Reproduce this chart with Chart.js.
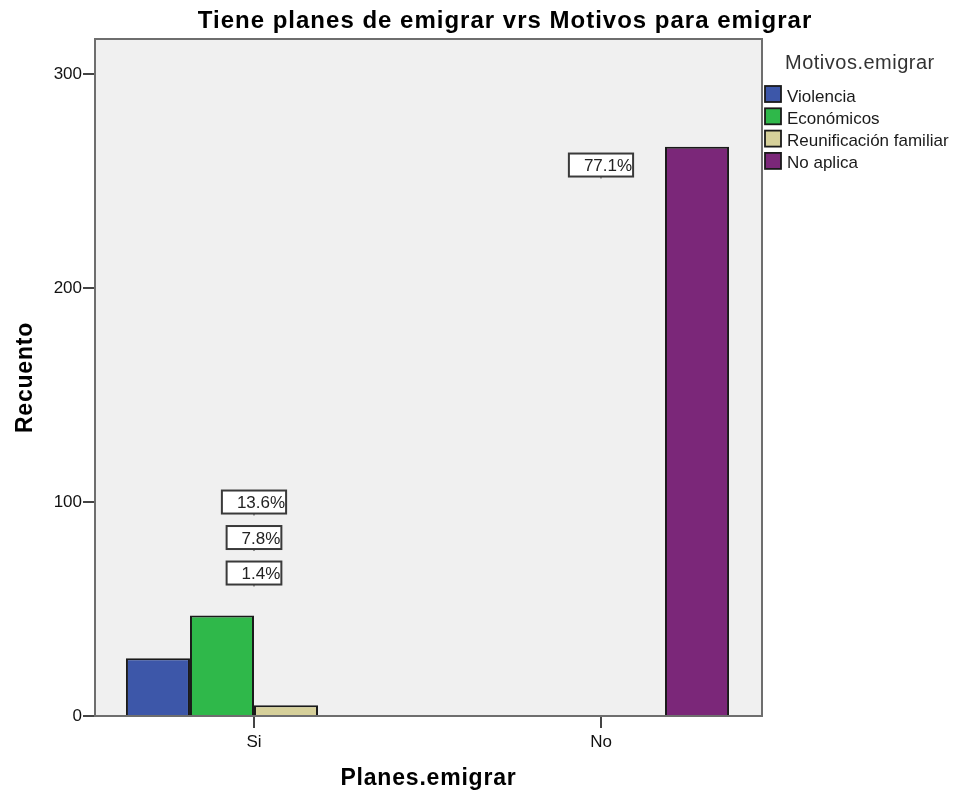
<!DOCTYPE html>
<html>
<head>
<meta charset="utf-8">
<script src="https://cdn.jsdelivr.net/npm/chart.js@4/dist/chart.umd.min.js"></script>
<style>
  body { margin: 0; background: #fff; }
  #lienzo { display: block; }
</style>
</head>
<body>
<canvas id="lienzo" width="956" height="791"></canvas>
<script>
// categorias del eje X
const categorias = ["Si", "No"];
// recuentos por motivo (uno por categoria)
const violencia = [27, 0];
const economicos = [47, 0];
const reunificacion = [5, 0];
const noAplica = [0, 266];
const motivos = ["Violencia", "Económicos", "Reunificación familiar", "No aplica"];
const colores = ["#3d57a9", "#2fb84a", "#d6d09a", "#7b2779"];
const ticksY = [0, 100, 200, 300];

const fuente = "'Liberation Sans', Arial, sans-serif";
const series = [violencia, economicos, reunificacion, noAplica];

// fondo gris del area de grafico y marco
const marcoPlugin = {
  id: "marco",
  beforeDraw(chart) {
    const a = chart.chartArea;
    const ctx = chart.ctx;
    ctx.save();
    ctx.fillStyle = "#f0f0f0";
    ctx.fillRect(a.left, a.top, a.right - a.left, a.bottom - a.top);
    ctx.restore();
  },
  beforeDatasetsDraw(chart) {
    const a = chart.chartArea;
    const ctx = chart.ctx;
    ctx.save();
    ctx.strokeStyle = "#6e6e6e";
    ctx.lineWidth = 2;
    ctx.strokeRect(a.left, a.top, a.right - a.left, a.bottom - a.top);
    ctx.restore();
  }
};

// titulo, titulos de ejes y leyenda
const textosPlugin = {
  id: "textos",
  afterDraw(chart) {
    const ctx = chart.ctx;
    const a = chart.chartArea;
    ctx.save();
    ctx.fillStyle = "#000";
    ctx.textAlign = "center";
    ctx.textBaseline = "alphabetic";
    ctx.font = "bold 24px " + fuente;
    ctx.letterSpacing = "1px";
    ctx.fillText("Tiene planes de emigrar vrs Motivos para emigrar", 505, 28);

    ctx.font = "bold 23px " + fuente;
    ctx.letterSpacing = "0.8px";
    ctx.fillText("Planes.emigrar", (a.left + a.right) / 2, 785);

    ctx.save();
    ctx.translate(32, (a.top + a.bottom) / 2);
    ctx.rotate(-Math.PI / 2);
    ctx.fillText("Recuento", 0, 0);
    ctx.restore();

    // leyenda
    ctx.textAlign = "left";
    ctx.fillStyle = "#333";
    ctx.font = "20px " + fuente;
    ctx.letterSpacing = "0.5px";
    ctx.fillText("Motivos.emigrar", 785, 69);
    ctx.letterSpacing = "0px";
    ctx.font = "17px " + fuente;
    chart.data.datasets.forEach((ds, i) => {
      const y = 86 + i * 22.3;
      ctx.fillStyle = ds.backgroundColor;
      ctx.fillRect(765, y, 16, 16);
      ctx.strokeStyle = "#1a1a1a";
      ctx.lineWidth = 1.8;
      ctx.strokeRect(765, y, 16, 16);
      ctx.fillStyle = "#1a1a1a";
      ctx.fillText(ds.label, 787, y + 15.5);
    });
    ctx.restore();
  }
};

// etiquetas de porcentaje por categoria
const porcentajesPlugin = {
  id: "porcentajes",
  afterDatasetsDraw(chart, args, opts) {
    const ctx = chart.ctx;
    const xs = chart.scales.x;
    const ys = chart.scales.y;
    let total = 0;
    series.forEach(s => s.forEach(v => total += v));
    ctx.save();
    ctx.font = "17px " + fuente;
    ctx.textBaseline = "alphabetic";
    ctx.textAlign = "right";
    categorias.forEach((cat, c) => {
      const vals = series.map(s => s[c]).filter(v => v > 0).sort((p, q) => q - p);
      const cx = xs.getPixelForValue(c);
      vals.forEach((v, k) => {
        const texto = (v / total * 100).toFixed(1) + "%";
        const cy = ys.getPixelForValue(opts.inicio[c]) + k * opts.paso;
        const w = ctx.measureText(texto).width + 16;
        const h = 23;
        ctx.fillStyle = "#fff";
        ctx.fillRect(cx - w / 2, cy - h / 2, w, h);
        ctx.strokeStyle = "#3a3a3a";
        ctx.lineWidth = 2;
        ctx.strokeRect(cx - w / 2, cy - h / 2, w, h);
        // pequeña marca al centro del borde inferior
        ctx.lineWidth = 1;
        ctx.beginPath();
        ctx.moveTo(cx, cy + h / 2);
        ctx.lineTo(cx, cy + h / 2 + 2);
        ctx.stroke();
        ctx.fillStyle = "#222";
        ctx.fillText(texto, cx + w / 2 - 1, cy + 6);
      });
    });
    ctx.restore();
  }
};

const datasets = series.map((s, i) => ({
  label: motivos[i],
  data: s.map((v, j) => ({ x: j, y: v })),
  backgroundColor: colores[i],
  borderColor: "#1a1a1a",
  borderWidth: c => (c.raw && c.raw.y === 0 ? 0 : 2),
  categoryPercentage: 0.738,
  barPercentage: 1
}));

new Chart(document.getElementById("lienzo"), {
  type: "bar",
  data: { datasets: datasets },
  plugins: [marcoPlugin, porcentajesPlugin, textosPlugin],
  options: {
    responsive: false,
    animation: false,
    layout: { padding: { top: 39, right: 194, left: 0, bottom: 0 } },
    plugins: {
      legend: { display: false },
      tooltip: { enabled: false },
      title: { display: false },
      porcentajes: { inicio: [100, 257.5], paso: 35.5 }
    },
    scales: {
      x: {
        type: "linear",
        min: -0.4582,
        max: 1.464,
        offset: false,
        afterFit: s => { s.height = 75; },
        afterBuildTicks: s => { s.ticks = categorias.map((c, i) => ({ value: i })); },
        grid: { drawOnChartArea: false, offset: false, tickLength: 12, color: "#444", lineWidth: 2 },
        border: { display: true, color: "#444", width: 2 },
        ticks: {
          padding: 4,
          color: "#111",
          font: { family: fuente, size: 17 },
          callback: v => categorias[v]
        }
      },
      y: {
        min: 0,
        max: 316.4,
        afterFit: s => { s.width = 95; },
        afterBuildTicks: s => { s.ticks = ticksY.map(v => ({ value: v })); },
        grid: { drawOnChartArea: false, tickLength: 12, color: "#444", lineWidth: 2 },
        border: { display: true, color: "#444", width: 2 },
        ticks: {
          padding: 1,
          color: "#111",
          font: { family: fuente, size: 17 }
        }
      }
    }
  }
});
</script>
</body>
</html>
